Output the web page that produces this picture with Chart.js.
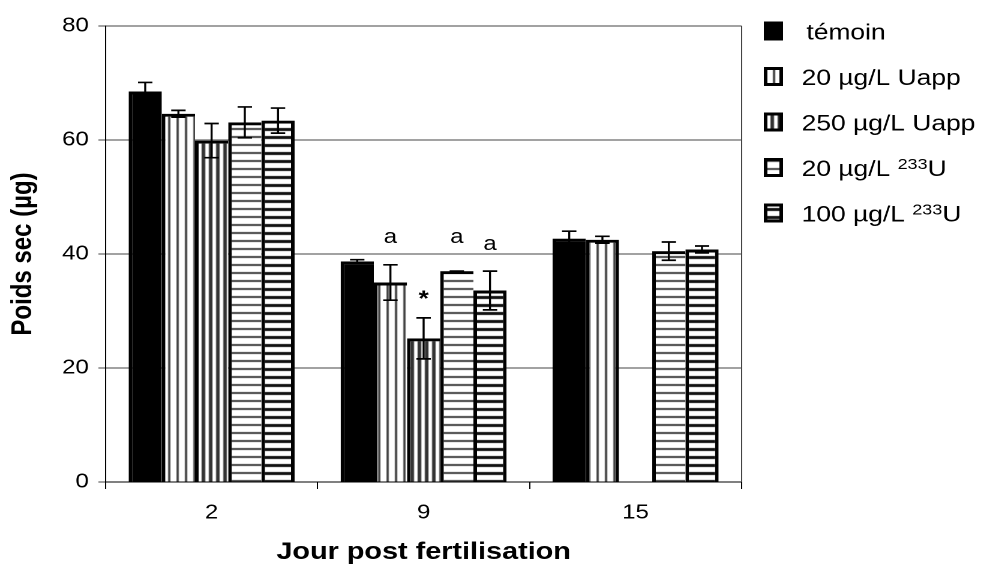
<!DOCTYPE html>
<html>
<head>
<meta charset="utf-8">
<script src="https://cdn.jsdelivr.net/npm/chart.js@4/dist/chart.umd.min.js"></script>
<style>
  html, body { margin: 0; padding: 0; background: #fff; overflow: hidden; }
  /* the original figure is stretched sideways, so the chart is laid out narrower and widened */
  #wrap { width: 819px; height: 570px; transform: scaleX(1.2); transform-origin: 0 0; }
</style>
</head>
<body>
<div id="wrap"><canvas id="chart"></canvas></div>
<script>
const days = ['2', '9', '15'];
const seriesNames = ['témoin', '20 µg/L Uapp', '250 µg/L Uapp', '20 µg/L ²³³U', '100 µg/L ²³³U'];

const temoin = [68.5, 38.7, 42.7];
const temoinErr = [1.6, 0.3, 1.3];
const uapp20 = [64.6, 35.0, 42.5];
const uapp20Err = [0.6, 3.1, 0.6];
const uapp250 = [59.9, 25.2, null];
const uapp250Err = [3.0, 3.6, null];
const u233_20 = [63.1, 37.0, 40.5];
const u233_20Err = [2.7, 0, 1.6];
const u233_100 = [63.4, 33.6, 40.8];
const u233_100Err = [2.2, 3.4, 0.6];

// significance marks: series index, day index, text
const marks = [
  { series: 1, day: 1, text: 'a' },
  { series: 2, day: 1, text: '*' },
  { series: 3, day: 1, text: 'a' },
  { series: 4, day: 1, text: 'a' }
];
const markLevel = [41.9, 30.9, 41.9, 40.7];

const values = [temoin, uapp20, uapp250, u233_20, u233_100];
const errors = [temoinErr, uapp20Err, uapp250Err, u233_20Err, u233_100Err];

const FONT = '"Liberation Sans", Arial, sans-serif';
Chart.defaults.font.family = FONT;
Chart.defaults.color = '#000';

function stripes(dir, period, width, color) {
  const c = document.createElement('canvas');
  c.width = period; c.height = period;
  const g = c.getContext('2d');
  g.fillStyle = '#fff';
  g.fillRect(0, 0, period, period);
  g.fillStyle = color;
  if (dir === 'v') g.fillRect(0, 0, width, period);
  else g.fillRect(0, 0, period, width);
  return g.createPattern(c, 'repeat');
}

const fills = [
  '#000',
  stripes('v', 7, 2, '#444'),
  stripes('v', 6, 3, '#333'),
  stripes('h', 8, 2, '#444'),
  stripes('h', 8, 3, '#111')
];

// neighbouring bars share one border, like in the original
function borderFor(s) {
  return ctx => {
    const next = values[s + 1];
    const closeRight = !next || next[ctx.dataIndex] == null;
    return { top: 3, left: 3, right: closeRight ? 3 : 0, bottom: 0 };
  };
}

const datasets = values.map((v, s) => ({
  label: seriesNames[s],
  data: v,
  errors: errors[s],
  backgroundColor: fills[s],
  borderColor: '#000',
  borderWidth: borderFor(s)
}));

const plotFrame = {
  id: 'plotFrame',
  beforeDatasetsDraw(chart) {
    const { ctx, chartArea: a } = chart;
    ctx.save();
    ctx.strokeStyle = '#444';
    ctx.lineWidth = 1;
    ctx.beginPath();
    ctx.moveTo(a.right, a.top);
    ctx.lineTo(a.right, a.bottom);
    ctx.stroke();
    ctx.restore();
  }
};

const errorBars = {
  id: 'errorBars',
  afterDatasetsDraw(chart) {
    const ctx = chart.ctx, y = chart.scales.y;
    ctx.save();
    ctx.strokeStyle = '#000';
    ctx.lineWidth = 1.7;
    chart.data.datasets.forEach((ds, d) => {
      chart.getDatasetMeta(d).data.forEach((bar, i) => {
        const v = ds.data[i], e = ds.errors[i];
        if (v == null || e == null) return;
        const top = y.getPixelForValue(v + e), bot = y.getPixelForValue(v - e);
        ctx.beginPath();
        ctx.moveTo(bar.x, top); ctx.lineTo(bar.x, bot);
        ctx.moveTo(bar.x - 6, top); ctx.lineTo(bar.x + 6, top);
        ctx.moveTo(bar.x - 6, bot); ctx.lineTo(bar.x + 6, bot);
        ctx.stroke();
      });
    });

    ctx.fillStyle = '#000';
    ctx.textAlign = 'center';
    ctx.textBaseline = 'alphabetic';
    marks.forEach((m, k) => {
      const bar = chart.getDatasetMeta(m.series).data[m.day];
      ctx.font = m.text === '*' ? 'bold 22px ' + FONT : '20px ' + FONT;
      ctx.fillText(m.text, bar.x, y.getPixelForValue(markLevel[k]));
    });
    ctx.restore();
  }
};

// legend text: superscript digits are drawn as small raised numbers
const SUP = { '²': '2', '³': '3', '¹': '1' };
function drawLabel(ctx, text, x, base) {
  let i = 0;
  while (i < text.length) {
    const sup = !!SUP[text[i]];
    let j = i;
    while (j < text.length && !!SUP[text[j]] === sup) j++;
    let part = text.slice(i, j);
    if (sup) {
      part = part.split('').map(c => SUP[c]).join('');
      ctx.font = '15px ' + FONT;
      ctx.fillText(part, x, base - 7);
    } else {
      ctx.font = '22px ' + FONT;
      ctx.fillText(part, x, base);
    }
    x += ctx.measureText(part).width;
    i = j;
  }
}

const sideLegend = {
  id: 'sideLegend',
  afterDraw(chart) {
    const ctx = chart.ctx;
    const bx = chart.chartArea.right + 18.5;
    ctx.save();
    ctx.textBaseline = 'alphabetic';
    ctx.textAlign = 'left';
    chart.data.datasets.forEach((ds, d) => {
      const cy = 31 + d * 45.5;
      const by = cy - 9.5;
      ctx.fillStyle = ds.backgroundColor;
      ctx.fillRect(bx, by, 16, 19);
      ctx.lineWidth = 3;
      ctx.strokeStyle = '#000';
      ctx.strokeRect(bx + 1.5, by + 1.5, 13, 16);
      ctx.fillStyle = '#000';
      drawLabel(ctx, ds.label, bx + (d === 0 ? 35.5 : 31.5), cy + 8.5);
    });
    ctx.restore();
  }
};

new Chart(document.getElementById('chart').getContext('2d'), {
  type: 'bar',
  data: { labels: days, datasets: datasets },
  plugins: [plotFrame, errorBars, sideLegend],
  options: {
    responsive: true,
    maintainAspectRatio: false,
    animation: false,
    devicePixelRatio: 2,
    layout: { padding: { top: 26, right: 201, bottom: 0, left: 0 } },
    plugins: { legend: { display: false }, tooltip: { enabled: false } },
    datasets: { bar: { categoryPercentage: 0.783, barPercentage: 1 } },
    scales: {
      x: {
        grid: { offset: true, drawOnChartArea: false, tickLength: 7, color: '#000', lineWidth: 1 },
        border: { color: '#000', width: 1 },
        ticks: { color: '#000', font: { size: 20 }, padding: 12 },
        title: {
          display: true, text: 'Jour post fertilisation', color: '#000',
          font: { size: 24, weight: 'bold' }, padding: { top: 0, bottom: 3 }
        },
        afterFit: s => { s.height = 88; }
      },
      y: {
        min: 0, max: 80,
        ticks: { stepSize: 20, color: '#000', font: { size: 20 }, padding: 8 },
        grid: { color: '#444', lineWidth: 1, tickLength: 6 },
        border: { color: '#000', width: 1 },
        title: {
          display: true, text: 'Poids sec (µg)', color: '#000',
          font: { size: 24, weight: 'bold' }, padding: { top: 5, bottom: 5 }
        },
        afterFit: s => { s.width = 88; }
      }
    }
  }
});
</script>
</body>
</html>
